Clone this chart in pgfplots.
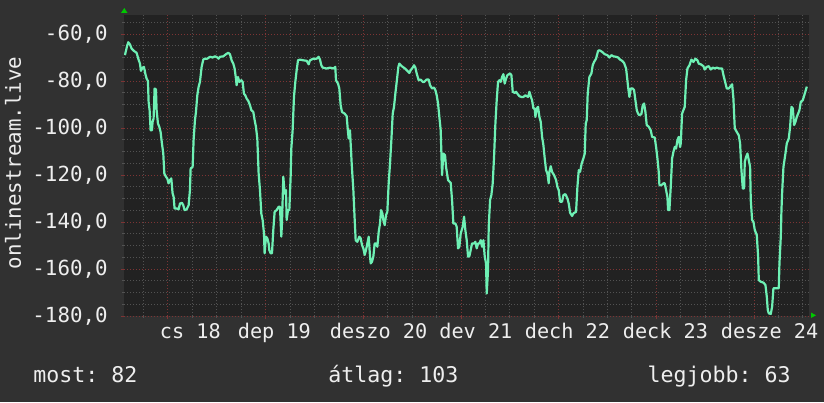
\documentclass[border=0pt]{standalone}
\usepackage{pgfplots}
\pgfplotsset{compat=1.18}
\usepackage{fontspec}
\setmainfont{DejaVu Sans Mono}
\setmonofont{DejaVu Sans Mono}
\definecolor{outerbg}{RGB}{49,49,49}
\definecolor{plotbg}{RGB}{34,34,34}
\definecolor{mgrid}{RGB}{125,52,52}
\definecolor{ngrid}{RGB}{82,82,82}
\definecolor{txt}{RGB}{238,238,238}
\definecolor{trace}{RGB}{110,240,180}
\definecolor{arrowgreen}{RGB}{0,200,0}
\newcommand{\lbl}{\fontsize{10.4}{12}\selectfont\color{txt}}
\newcommand{\xlbl}{\fontsize{10.1}{12}\selectfont\color{txt}}
\newcommand{\sumlbl}{\fontsize{10.8}{13}\selectfont\color{txt}}
\frenchspacing

\begin{document}
\begin{tikzpicture}
\fill[outerbg] (0,0) rectangle (412pt,201pt);
\begin{axis}[
  at={(62pt,43pt)}, anchor=south west,
  scale only axis, width=342.5pt, height=150.5pt,
  xmin=-10.8, xmax=157.5, ymin=-180, ymax=-51.8,
  axis background/.style={fill=plotbg},
  axis line style={draw=none},
  xtick={0,24,...,144}, minor xtick={-6,0,...,156},
  xticklabels={},
  ytick={-180,-160,...,-60}, minor ytick={-180,-175,...,-55},
  yticklabels={{-180,0},{-160,0},{-140,0},{-120,0},{-100,0},{-80,0},{-60,0}},
  xtick pos=lower, ytick pos=left,
  grid=both,
  major grid style={mgrid, line width=0.5pt, dash pattern=on 0.5pt off 1pt},
  minor grid style={ngrid, line width=0.5pt, dash pattern=on 0.5pt off 1pt},
  tick align=outside, major tick length=1.5pt, minor tick length=1pt,
  major tick style={mgrid, line width=0.5pt},
  minor tick style={ngrid, line width=0.5pt},
  yticklabel style={font=\lbl, inner sep=0pt, anchor=east, xshift=-6.5pt},
]
\addplot[trace, line width=1.1pt, line join=round] table {
-10.57 -68.9
-10.00 -64.7
-9.75 -63.4
-9.34 -64.3
-8.93 -66.1
-8.36 -67.1
-7.70 -67.9
-7.29 -70.4
-6.88 -72.5
-6.64 -75.6
-6.23 -74.2
-5.90 -73.9
-5.57 -76.7
-5.25 -78.9
-4.92 -79.9
-4.75 -88.8
-4.51 -92.3
-4.26 -100.9
-3.94 -100.9
-3.77 -97.3
-3.53 -95.9
-3.28 -83.1
-2.95 -83.5
-2.79 -92.3
-2.46 -98.0
-2.13 -99.4
-1.81 -101.6
-1.48 -106.5
-1.15 -110.8
-0.90 -119.3
-0.50 -120.7
-0.17 -121.4
0.16 -123.5
0.49 -122.1
0.82 -121.4
1.14 -127.8
1.39 -129.2
1.63 -134.2
2.13 -134.2
2.62 -134.6
2.95 -132.1
3.44 -131.8
3.76 -132.8
4.09 -134.9
4.58 -134.6
5.08 -132.8
5.40 -126.4
5.57 -117.2
6.06 -116.5
6.30 -105.1
6.63 -96.6
6.88 -93.1
7.21 -86.0
7.53 -82.4
7.86 -80.3
8.27 -73.9
8.68 -70.8
9.01 -70.4
9.66 -70.4
10.32 -69.6
10.97 -69.9
11.55 -69.4
12.12 -69.9
12.45 -70.4
12.78 -69.6
13.60 -69.4
14.25 -68.5
14.82 -67.9
15.23 -68.5
15.64 -71.1
16.05 -72.5
16.38 -74.6
16.71 -78.9
16.87 -81.7
17.20 -78.2
17.53 -80.3
18.02 -79.6
18.35 -80.3
18.67 -85.3
19.00 -86.0
19.33 -87.4
19.74 -88.4
20.15 -90.2
20.48 -92.3
20.97 -93.1
21.30 -96.6
21.62 -99.4
21.95 -104.4
22.28 -119.3
22.61 -126.4
22.93 -136.3
23.26 -139.1
23.59 -144.8
23.75 -153.3
24.08 -146.2
24.41 -146.9
24.74 -149.1
24.90 -151.9
25.23 -153.3
25.56 -153.3
25.88 -143.4
26.21 -135.6
26.70 -134.9
27.19 -133.5
27.52 -133.5
27.85 -146.2
28.01 -140.6
28.34 -120.7
28.67 -127.8
29.00 -126.4
29.16 -139.1
29.49 -134.9
29.82 -134.9
30.14 -120.7
30.31 -108.7
30.63 -100.9
30.96 -86.7
31.29 -80.3
31.62 -75.3
31.95 -71.1
32.44 -70.8
33.26 -71.1
34.08 -71.3
34.57 -72.8
34.89 -71.1
35.71 -70.4
36.53 -70.4
37.02 -69.6
37.35 -70.8
37.68 -73.2
38.01 -74.2
38.99 -74.6
39.81 -74.2
40.63 -74.6
41.12 -73.9
41.28 -79.6
41.78 -81.0
42.10 -83.1
42.43 -90.2
42.76 -93.1
43.41 -93.8
43.91 -94.9
44.23 -101.6
44.40 -104.4
44.72 -100.9
45.14 -115.0
45.55 -126.4
45.88 -139.1
46.12 -147.7
46.53 -148.4
47.02 -146.2
47.35 -146.9
47.68 -149.8
48.01 -151.2
48.33 -154.0
48.66 -151.9
48.99 -149.1
49.32 -146.2
49.65 -154.7
49.81 -157.6
50.14 -156.9
50.46 -154.7
50.79 -149.1
51.12 -149.1
51.45 -150.5
51.78 -144.1
52.10 -140.6
52.35 -134.9
52.68 -136.3
52.92 -139.1
53.25 -141.3
53.58 -137.0
53.90 -135.6
54.23 -123.5
54.56 -115.0
54.89 -105.1
55.22 -93.8
55.54 -90.9
55.87 -85.3
56.20 -80.3
56.61 -73.9
56.85 -72.5
57.43 -73.6
58.25 -74.6
58.82 -75.6
59.31 -76.5
59.64 -75.3
60.13 -74.2
60.46 -73.2
60.79 -74.2
61.11 -76.7
61.60 -79.6
62.10 -79.3
62.59 -80.3
62.92 -80.3
63.57 -79.3
64.06 -79.3
64.39 -81.7
64.88 -83.1
65.37 -82.7
65.70 -83.8
66.03 -86.0
66.36 -89.5
66.68 -95.2
67.01 -100.9
67.34 -120.0
67.67 -110.8
68.08 -111.5
68.32 -116.5
68.81 -122.1
69.47 -123.3
69.80 -130.6
70.12 -140.6
70.62 -140.6
70.94 -142.0
71.27 -151.2
71.60 -150.5
71.93 -144.8
72.42 -142.0
72.75 -137.7
73.07 -143.4
73.40 -147.7
73.73 -154.7
74.06 -154.5
74.38 -151.9
74.71 -149.1
75.20 -149.1
75.53 -148.4
75.86 -151.2
76.19 -149.1
76.51 -149.1
76.84 -147.7
77.17 -150.5
77.50 -147.7
77.83 -154.7
78.15 -157.6
78.32 -170.4
78.64 -160.4
78.81 -142.0
79.14 -130.6
79.46 -128.5
79.79 -123.5
80.12 -112.2
80.45 -98.0
80.77 -88.1
81.10 -80.3
81.43 -79.6
81.76 -80.3
82.09 -78.2
82.41 -77.0
82.74 -81.0
83.07 -78.9
83.40 -77.4
84.05 -76.7
84.38 -77.4
84.71 -84.5
85.20 -85.0
85.53 -84.5
85.85 -85.3
86.35 -86.4
86.84 -86.7
87.33 -86.7
87.82 -86.0
88.15 -86.4
88.48 -86.7
88.80 -84.5
89.13 -86.4
89.46 -88.1
89.79 -91.6
90.11 -91.6
90.28 -95.2
90.60 -91.6
90.93 -90.9
91.26 -95.2
91.59 -97.3
91.92 -103.7
92.24 -107.2
92.57 -112.9
92.90 -117.9
93.23 -119.3
93.55 -123.5
93.72 -118.6
94.05 -116.2
94.37 -118.6
94.86 -120.0
95.36 -122.1
95.68 -125.0
96.01 -126.4
96.34 -131.3
96.83 -131.3
97.16 -128.5
97.65 -128.1
98.14 -129.9
98.47 -132.1
98.80 -136.0
99.29 -137.4
99.62 -136.3
100.27 -135.6
100.60 -125.0
100.93 -117.9
101.25 -118.6
101.66 -115.0
102.07 -112.9
102.40 -110.8
102.64 -98.0
102.89 -96.6
103.13 -85.3
103.54 -78.2
104.04 -76.7
104.36 -73.2
104.69 -71.8
105.18 -70.4
105.67 -67.1
106.00 -66.8
106.66 -67.5
107.31 -68.5
107.97 -68.9
108.46 -69.9
108.95 -68.9
109.44 -69.4
110.10 -69.6
110.59 -69.9
111.08 -70.8
111.57 -71.3
112.06 -72.2
112.56 -74.6
112.88 -79.6
113.05 -82.4
113.37 -86.7
113.70 -83.1
114.19 -83.1
114.52 -83.8
114.85 -88.1
115.18 -92.3
115.50 -93.8
115.83 -94.5
116.32 -94.0
116.65 -90.2
116.98 -89.5
117.31 -93.1
117.63 -98.7
118.13 -99.4
118.62 -100.9
118.95 -103.7
119.60 -104.0
119.93 -108.0
120.26 -112.9
120.58 -118.6
120.75 -124.3
121.24 -124.3
121.73 -123.5
122.06 -123.5
122.39 -126.4
122.71 -129.2
122.88 -134.9
123.20 -134.9
123.53 -125.0
123.86 -112.9
124.19 -110.1
124.52 -108.0
124.84 -108.7
125.17 -105.1
125.50 -103.7
125.83 -108.0
125.99 -106.5
126.32 -93.8
126.65 -92.3
126.97 -90.9
127.30 -79.6
127.63 -74.6
128.12 -73.2
128.61 -70.8
129.10 -71.8
129.59 -70.4
130.09 -71.1
130.41 -72.5
130.91 -72.8
131.56 -73.6
131.89 -75.0
132.38 -73.9
132.87 -73.6
133.36 -75.0
133.85 -74.2
134.35 -74.6
134.84 -74.2
135.49 -74.6
136.15 -74.6
136.48 -77.4
136.80 -79.6
137.29 -83.1
137.79 -83.1
138.11 -82.4
138.61 -81.3
138.93 -87.4
139.26 -100.1
139.75 -101.6
140.24 -103.0
140.57 -106.5
140.90 -117.9
141.23 -125.7
141.55 -125.7
141.72 -114.3
142.05 -112.2
142.37 -110.8
142.70 -113.6
143.03 -116.5
143.19 -130.6
143.52 -139.1
143.85 -139.9
144.18 -143.4
144.67 -145.5
145.00 -154.7
145.16 -164.7
145.65 -165.4
146.31 -165.8
146.80 -166.8
147.13 -171.8
147.37 -177.4
147.62 -178.9
148.11 -179.1
148.44 -176.0
148.76 -168.2
149.26 -168.2
150.07 -168.2
150.24 -157.6
150.57 -146.2
150.73 -134.9
150.89 -127.8
151.22 -116.5
151.71 -110.8
152.04 -106.5
152.53 -104.4
152.86 -99.4
153.19 -90.9
153.52 -91.6
153.84 -98.7
154.17 -97.3
154.50 -95.2
154.83 -93.8
155.15 -92.3
155.48 -88.8
155.97 -88.1
156.46 -85.3
156.96 -82.3
};
\end{axis}
\begin{scope}[x=0.5pt, y=-0.5pt, shift={(0pt,201pt)}]
  % y title
  \node[rotate=90, inner sep=0pt, font=\lbl] at (13,163) {onlinestream.live};
  % day labels
  \foreach \a/\t in {159.5/cs 18, 237.5/dep 19, 329.5/deszo 20, 439/dev 21,
                     524.5/dech 22, 622.5/deck 23, 720.5/desze 24}{
    \node[anchor=base west, inner sep=0pt, font=\xlbl] at (\a,338) {\t};
  }
  % summary line
  \node[anchor=base west, inner sep=0pt, font=\sumlbl] at (33,382) {most: 82};
  \node[anchor=base west, inner sep=0pt, font=\sumlbl] at (328,382) {átlag: 103};
  \node[anchor=base east, inner sep=0pt, font=\sumlbl] at (791,382) {legjobb: 63};
  % axis arrows
  \fill[arrowgreen] (121,13) -- (127.5,13) -- (124.3,8) -- cycle;
  \fill[arrowgreen] (811,312.5) -- (811,318) -- (816,315.3) -- cycle;
\end{scope}
\end{tikzpicture}
\end{document}
